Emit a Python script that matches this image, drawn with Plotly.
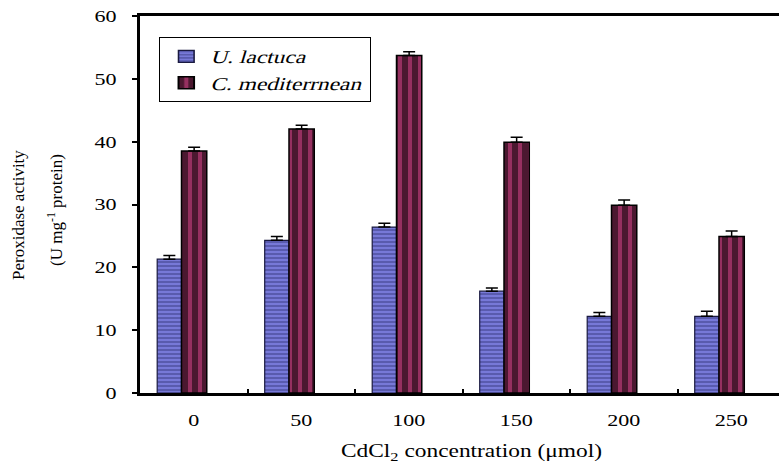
import plotly.graph_objects as go

categories = ["0", "50", "100", "150", "200", "250"]
u_lactuca = [21.3, 24.3, 26.4, 16.2, 12.2, 12.2]
u_lactuca_err = [0.6, 0.6, 0.6, 0.5, 0.6, 0.8]
c_med = [38.5, 42.0, 53.7, 39.9, 29.9, 24.9]
c_med_err = [0.6, 0.6, 0.6, 0.8, 0.8, 0.9]
y_ticks = [0, 10, 20, 30, 40, 50, 60]

SERIF = "Liberation Serif, Times New Roman, serif"

fig = go.Figure()
fig.add_trace(go.Bar(
    x=categories, y=u_lactuca, name="U. lactuca",
    offset=-0.34, width=0.226,
    marker=dict(color="#7375d4",
                line=dict(color="#1a1a40", width=1.2),
                pattern=dict(shape="-", fgcolor="#2e3074", bgcolor="#7779d8",
                             size=4, solidity=0.42, fillmode="overlay")),
    error_y=dict(type="data", array=u_lactuca_err,
                 arrayminus=[0] * len(u_lactuca_err),
                 color="black", thickness=1.5, width=6),
))
fig.add_trace(go.Bar(
    x=categories, y=c_med, name="C. mediterrnean",
    offset=-0.114, width=0.235,
    marker=dict(color="#963060",
                line=dict(color="black", width=1.5),
                pattern=dict(shape="|", fgcolor="black", bgcolor="#963060",
                             size=10, solidity=0.6, fillmode="overlay")),
    error_y=dict(type="data", array=c_med_err,
                 arrayminus=[0] * len(c_med_err),
                 color="black", thickness=1.5, width=6),
))

fig.update_layout(
    width=779, height=464,
    margin=dict(l=140, r=0, t=16, b=71),
    paper_bgcolor="white", plot_bgcolor="white",
    barmode="overlay",
    showlegend=True,
    legend=dict(x=(159 - 140) / 639, y=0.944, xanchor="left", yanchor="top",
                bgcolor="white", bordercolor="black", borderwidth=1,
                font=dict(family="Liberation Serif", size=18, color="black"),
                itemwidth=30, tracegroupgap=0),
    font=dict(family=SERIF, color="black"),
)
fig.update_xaxes(
    type="category", range=[-0.5, 5.444],
    showline=True, linewidth=3, linecolor="black", mirror=True,
    ticks="inside", ticklen=4, tickwidth=1.5, tickcolor="black",
    tickson="boundaries",
    tickfont=dict(family=SERIF, size=17, color="black"),
    ticklabelstandoff=10,
    showgrid=False, zeroline=False,
)
fig.update_yaxes(
    range=[0, 60], tickvals=y_ticks,
    showline=True, linewidth=3, linecolor="black",
    ticks="outside", ticklen=5, tickwidth=1.5, tickcolor="black",
    tickfont=dict(family=SERIF, size=17, color="black"),
    ticklabelstandoff=12,
    showgrid=False, zeroline=False,
)

fig.add_annotation(text="CdCl<sub>2</sub> concentration (\u03bcmol)",
                   xref="paper", yref="paper", x=(471 - 140) / 639, y=-(452 - 393) / 377,
                   xanchor="center", yanchor="middle", showarrow=False, name="xtitle",
                   font=dict(family=SERIF, size=18, color="black"))
fig.add_annotation(text="Peroxidase activity",
                   xref="paper", yref="paper", x=-(140 - 18) / 639, y=(393 - 215) / 377,
                   xanchor="center", yanchor="middle", showarrow=False, textangle=-90,
                   font=dict(family=SERIF, size=17, color="black"))
fig.add_annotation(text="(U mg<sup>-1</sup> protein)",
                   xref="paper", yref="paper", x=-(140 - 55) / 639, y=(393 - 210) / 377,
                   xanchor="center", yanchor="middle", showarrow=False, textangle=-90,
                   font=dict(family=SERIF, size=17, color="black"))

# The reference's text is rendered slightly wide and the legend in italic serif;
# emulate that on the finished SVG (text stays real text).
post = """
var gd = document.getElementById('{plot_id}');
function stretch(el, s) {
  var x = parseFloat(el.getAttribute('x')) || 0;
  var t = el.getAttribute('transform') || '';
  el.setAttribute('transform', t + ' translate(' + x + ',0) scale(' + s + ',1) translate(' + (-x) + ',0)');
}
gd.querySelectorAll('.xtick text, .ytick text').forEach(function (el) { stretch(el, 1.3); });
var ann = gd.querySelectorAll('.annotation-text');
if (ann.length) { stretch(ann[0], 1.3); }
var lg = gd.querySelector('g.legend');
if (lg) {
  lg.setAttribute('transform', (lg.getAttribute('transform') || '') + ' scale(1.3,1)');
  lg.querySelectorAll('text.legendtext').forEach(function (el) {
    el.setAttribute('transform', (el.getAttribute('transform') || '') + ' skewX(-13)');
  });
}
document.body.style.margin = '0';
document.body.style.padding = '0';
"""

fig.write_html("out.html", config={"displayModeBar": False}, post_script=post)
